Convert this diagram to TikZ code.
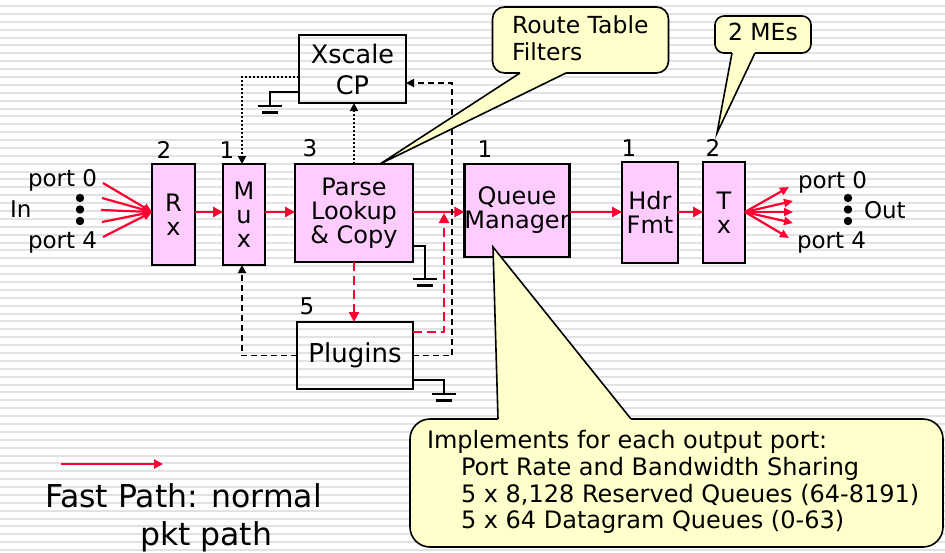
\documentclass[tikz,border=0pt]{standalone}
\usepackage{fontspec}
\setmainfont{DejaVu Sans}
\usetikzlibrary{arrows.meta}
\definecolor{fastred}{HTML}{FF0033}
\definecolor{mepink}{HTML}{FFCCFF}
\definecolor{notey}{HTML}{FFFFCC}
\definecolor{stripe}{HTML}{E2E2E2}
\newcommand\fsz[2]{\fontsize{#1}{#2}\selectfont}

\begin{document}
\begin{tikzpicture}[x=1pt,y=-1pt,
  me/.style={draw, line width=2.4pt, fill=mepink, inner sep=0pt, outer sep=0pt,
             align=center, font=\fsz{24}{24}},
  plainbox/.style={draw, line width=2.4pt, inner sep=0pt, outer sep=0pt, align=center},
  txt/.style={inner sep=0pt, outer sep=0pt},
  num/.style={txt, anchor=base, font=\fsz{23}{23}},
  fast/.style={fastred, line width=2.6pt, -{Triangle[length=10pt,width=10pt]}},
  fan/.style={fastred, line width=2.2pt, -{Triangle[length=9pt,width=8pt]}},
  fastdash/.style={fastred, line width=2.4pt, dash pattern=on 9pt off 5pt,
                   -{Triangle[length=10pt,width=10pt]}},
  ctrl/.style={black, line width=1.8pt, dash pattern=on 6pt off 4pt,
               -{Triangle[length=8pt,width=8pt]}},
  dots/.style={black, line width=1.8pt, dash pattern=on 1.8pt off 2.2pt,
               -{Triangle[length=8pt,width=8pt]}},
  wire/.style={black, line width=1.8pt},
  note/.style={draw, line width=1.6pt, fill=notey},
  gnd/.pic={\draw[line width=2.4pt] (-12,0) -- (12,0) (-8,6.5) -- (8,6.5);}
]
\useasboundingbox (0,0) rectangle (945,552);
\fill[white] (0,0) rectangle (945,552);
% striped slide background
\foreach \k in {0,...,69}
  \draw[stripe, line width=2pt] (0,{6+7.886*\k}) -- (945,{6+7.886*\k});

% processing blocks
\node[me, minimum width=43pt, minimum height=101pt] (rx) at (173.5,214.5) {R\\x};
\node[me, minimum width=42pt, minimum height=101pt] (mux) at (244,214.5) {M\\u\\x};
\node[me, minimum width=118pt, minimum height=98pt] (parse) at (354,213) {Parse\\Lookup\\\& Copy};
\node[me, minimum width=102pt, minimum height=93pt] (qm) at (517,210.5) {Queue\\Manager};
\node[me, minimum width=56pt, minimum height=101pt] (hdr) at (650,212.5) {Hdr\\Fmt};
\node[me, minimum width=42pt, minimum height=101pt] (tx) at (724,212.5) {T\\x};
\node[plainbox, minimum width=107pt, minimum height=68pt, font=\fsz{25.5}{31}] (xs) at (352.5,69) {Xscale\\CP};
\node[plainbox, minimum width=116pt, minimum height=67pt, font=\fsz{26}{26}] (plug) at (355,355.5) {Plugins};

% ME counts
\node[num] (n1) at (164,158) {2};
\node[num] (n2) at (227,158) {1};
\node[num] (n3) at (310,156) {3};
\node[num] (n4) at (485,157) {1};
\node[num] (n5) at (629,156) {1};
\node[num] (n6) at (713,156) {2};
\node[num] (n7) at (307,314) {5};

% input / output ports
\node[txt, anchor=base west, font=\fsz{23}{23}] (pin0) at (28,186) {port 0};
\node[txt, anchor=base west, font=\fsz{23}{23}] (pin4) at (28,248) {port 4};
\node[txt, anchor=base west, font=\fsz{23}{23}] (in) at (10,217) {In};
\node[txt, anchor=base west, font=\fsz{23}{23}] (pout0) at (798,188) {port 0};
\node[txt, anchor=base west, font=\fsz{23}{23}] (pout4) at (797,248) {port 4};
\node[txt, anchor=base west, font=\fsz{23}{23}] (out) at (864,218) {Out};
\foreach \yy in {198,209.5,221} {
  \fill (80,\yy) circle (4.2);
  \fill (848,\yy) circle (4.2);
}

% fast path
\coordinate (mainline) at (0,212);
\coordinate (i1) at (103,183);
\coordinate (i2) at (102,198);
\coordinate (i3) at (101,210);
\coordinate (i4) at (102,222);
\coordinate (i5) at (103,237);
\foreach \p in {i1,i2,i3,i4,i5}
  \draw[fan] (\p) -- (rx.west |- mainline);
\draw[fast] (rx.east |- mainline) -- (mux.west |- mainline);
\draw[fast] (mux.east |- mainline) -- (parse.west |- mainline);
\draw[fast] (parse.east |- mainline) -- (qm.west |- mainline);
\draw[fast] (qm.east |- mainline) -- (hdr.west |- mainline);
\draw[fast] (hdr.east |- mainline) -- (tx.west |- mainline);
\coordinate (o1) at (789,187);
\coordinate (o2) at (793,201);
\coordinate (o3) at (793,212);
\coordinate (o4) at (793,223);
\coordinate (o5) at (789,238);
\foreach \p in {o1,o2,o3,o4,o5}
  \draw[fan] (tx.east |- mainline) -- (\p);

% control and plugin paths
\draw[dots] ([yshift=-8pt]xs.west) -| ([xshift=-2pt]mux.north);
\draw[dots] (parse.north) -- (parse.north |- xs.south);
\draw[ctrl] (plug.east) -- ++(39,0) |- ([yshift=-14pt]xs.east);
\draw[ctrl] (plug.west) -| ([xshift=-2pt]mux.south);
\draw[fastdash] (parse.south) -- (parse.south |- plug.north);
\draw[fastdash] ([yshift=23.5pt]plug.east) -- ++(31,0) coordinate (rd) -- ([yshift=-1pt]rd |- mainline);

% grounds
\draw[wire] ([yshift=-23pt]xs.west) -- ++(-29,0) -- ++(0,14) pic {gnd};
\draw[wire] ([yshift=-33pt]parse.east) -- ++(12,0) -- ++(0,33) pic {gnd};
\draw[wire] ([yshift=-24.5pt]plug.east) -- ++(31,0) -- ++(0,14) pic {gnd};

% callouts
\node[note, rounded corners=12pt, minimum width=176pt, minimum height=66pt, inner sep=0pt] (rtbox) at (580.5,40) {};
\fill[notey] (380,164) -- (520,73) -- (520,70) -- (566,70) -- (566,73) -- cycle;
\draw[line width=1.6pt, line join=miter] (520,73) -- (380,164) -- (566,73);
\node[txt, anchor=base west, font=\fsz{23.5}{23.5}] (rt1) at (512,33) {Route Table};
\node[txt, anchor=base west, font=\fsz{23.5}{23.5}] (rt2) at (512,60) {Filters};

\node[note, rounded corners=9pt, minimum width=96pt, minimum height=37pt, inner sep=0pt] (mebox) at (763,34.5) {};
\fill[notey] (717,133) -- (732,53) -- (732,50) -- (755,50) -- (755,53) -- cycle;
\draw[line width=1.6pt] (732,53) -- (717,133) -- (755,53);
\node[txt, anchor=base west, font=\fsz{23.5}{23.5}] (me1) at (728,40) {2 MEs};

\node[note, rounded corners=20pt, minimum width=533pt, minimum height=128pt, inner sep=0pt] (qbox) at (676.5,483) {};
\fill[notey] (493,247) -- (498,419) -- (498,422) -- (631,422) -- (631,419) -- cycle;
\draw[line width=1.6pt] (498,419) -- (493,247) -- (631,419);
\node[txt, anchor=base west, font=\fsz{24}{24}] (q1) at (427,448) {Implements for each output port:};
\node[txt, anchor=base west, font=\fsz{24}{24}] (q2) at (461,475) {Port Rate and Bandwidth Sharing};
\node[txt, anchor=base west, font=\fsz{24}{24}] (q3) at (461,502) {5 x 8,128 Reserved Queues (64-8191)};
\node[txt, anchor=base west, font=\fsz{24}{24}] (q4) at (461,528) {5 x 64 Datagram Queues (0-63)};

% legend
\coordinate (lgA) at (61,464);
\coordinate (lgB) at (163,464);
\draw[fastred, line width=2.4pt, -{Triangle[length=9pt,width=9pt]}] (lgA) -- (lgB);
\node[txt, anchor=base west, font=\fsz{31.5}{31.5}] (lg1) at (45,507) {Fast Path: normal};
\node[txt, anchor=base west, font=\fsz{31.5}{31.5}] (lg2) at (140,545) {pkt path};
\end{tikzpicture}
\end{document}
